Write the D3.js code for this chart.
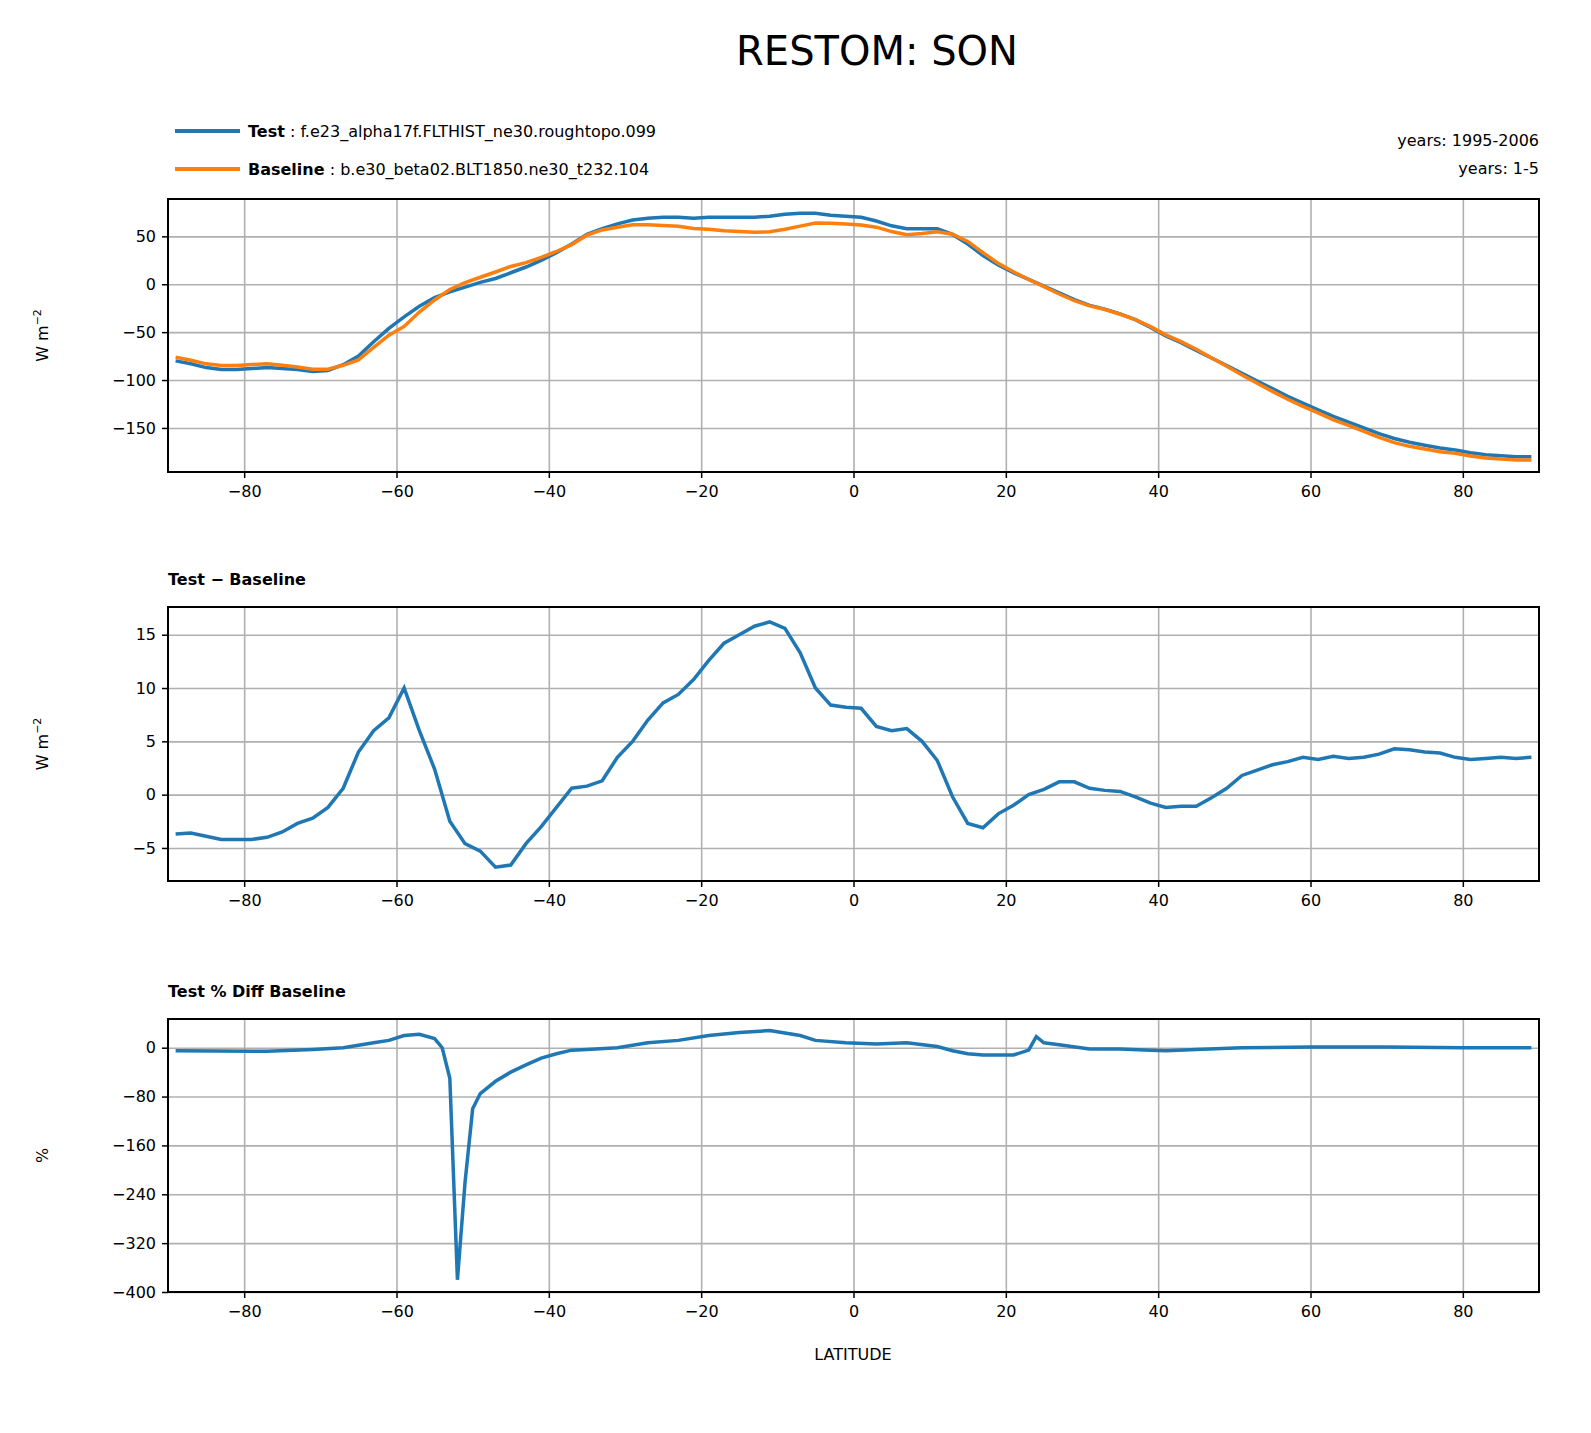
<!DOCTYPE html><html><head><meta charset="utf-8"><script src="https://cdn.jsdelivr.net/npm/d3@7"></script>
<style>html,body{margin:0;background:#fff;overflow:hidden}svg{display:block}text{font-family:"DejaVu Sans",sans-serif}</style></head><body>
<svg id="c" width="1591" height="1433"></svg>
<script>
const lat=d3.range(-89,90,2);
const test=[-80,-83,-87,-89,-89,-88,-87,-88,-89,-91,-90,-84,-75,-60,-46,-34,-23,-14,-8,-3,2,6,12,18,25,33,42,52,58,63,67,69,70,70,69,70,70,70,70,71,73,74,74,72,71,70,66,61,58,58,58,52,42,30,20,12,5,-2,-9,-16,-22,-26,-31,-37,-45,-54,-61,-69,-77,-85,-93,-101,-109,-117,-124,-131,-138,-144,-150,-156,-161,-165,-168,-171,-173,-176,-178,-179,-180,-180];
const diff=[-3.7,-3.6,-3.9,-4.2,-4.2,-4.2,-4.0,-3.5,-2.7,-2.2,-1.2,0.6,4.0,6.0,7.2,10.0,6.0,2.4,-2.5,-4.6,-5.3,-6.8,-6.6,-4.6,-3.0,-1.2,0.6,0.8,1.3,3.5,5.0,7.0,8.6,9.4,10.8,12.6,14.2,15.0,15.8,16.2,15.6,13.3,10.0,8.4,8.2,8.1,6.4,6.0,6.2,5.0,3.2,-0.2,-2.7,-3.1,-1.8,-1.0,0,0.5,1.2,1.2,0.6,0.4,0.3,-0.2,-0.8,-1.2,-1.1,-1.1,-0.3,0.6,1.8,2.3,2.8,3.1,3.5,3.3,3.6,3.4,3.5,3.8,4.3,4.2,4.0,3.9,3.5,3.3,3.4,3.5,3.4,3.5];
const base=test.map((v,i)=>v-diff[i]);
const pctLat=[-89,-77,-71,-67,-63,-61,-59,-57,-55,-54,-53,-52,-51,-50,-49,-47,-45,-43,-41,-39,-37,-35,-31,-27,-23,-19,-15,-11,-7,-5,-1,3,7,11,13,15,17,21,23,24,25,27,31,35,39,41,45,51,60,70,80,89];
const pct=[-5,-6,-3,0,8,12,20,22,15,0,-50,-380,-220,-100,-75,-55,-40,-28,-17,-10,-4,-3,0,8,12,20,25,28,20,12,8,6,8,2,-5,-10,-12,-12,-4,18,8,5,-2,-2,-4,-5,-3,0,1,1,0,0];
const xTicks=[-80,-60,-40,-20,0,20,40,60,80];
const svg=d3.select("#c");
const x=d3.scaleLinear().domain([-90,90]).range([168,1539]);
const blue="#1f77b4",orange="#ff7f0e";
svg.append("text").attr("x",877).attr("y",65).attr("text-anchor","middle").attr("font-size",40).text("RESTOM: SON");
function panel(top,bot,dom,yt,series,ylab,sub,xlab){
  const y=d3.scaleLinear().domain(dom).range([bot,top]);
  const g=svg.append("g");
  g.append("g").attr("transform",`translate(0,${bot})`).call(d3.axisBottom(x).tickValues(xTicks).tickSize(top-bot).tickFormat(""))
   .call(a=>{a.selectAll("line").attr("stroke","#b0b0b0").attr("stroke-width",1.6);a.select(".domain").remove();});
  g.append("g").attr("transform",`translate(168,0)`).call(d3.axisLeft(y).tickValues(yt).tickSize(-1371).tickFormat(""))
   .call(a=>{a.selectAll("line").attr("stroke","#b0b0b0").attr("stroke-width",1.6);a.select(".domain").remove();});
  const fmt=d=>String(d).replace("-","\u2212");
  g.append("g").attr("transform",`translate(0,${bot})`).call(d3.axisBottom(x).tickValues(xTicks).tickSize(6).tickPadding(8).tickFormat(fmt))
   .call(a=>{a.select(".domain").remove();a.selectAll("text").attr("font-size",16).attr("font-family","DejaVu Sans");a.selectAll("line").attr("stroke-width",1.5);});
  g.append("g").attr("transform",`translate(168,0)`).call(d3.axisLeft(y).tickValues(yt).tickSize(6).tickPadding(6).tickFormat(fmt))
   .call(a=>{a.select(".domain").remove();a.selectAll("text").attr("font-size",16).attr("font-family","DejaVu Sans");a.selectAll("line").attr("stroke-width",1.5);});
  series.forEach(s=>{
    g.append("path").datum(s.y.map((v,i)=>[s.x[i],v])).attr("fill","none").attr("stroke",s.c).attr("stroke-width",3.5)
     .attr("d",d3.line().x(d=>x(d[0])).y(d=>y(d[1])));
  });
  g.append("rect").attr("x",168).attr("y",top).attr("width",1371).attr("height",bot-top).attr("fill","none").attr("stroke","#000").attr("stroke-width",2);
  const yl=g.append("text").attr("transform",`translate(48,${(top+bot)/2}) rotate(-90)`).attr("text-anchor","middle").attr("font-size",16);
  if(ylab==="W"){yl.text("W m");yl.append("tspan").attr("dy",-7).attr("font-size",11).text("\u22122");}else yl.text(ylab);
  if(sub) g.append("text").attr("x",168).attr("y",top-22).attr("font-size",16).attr("font-weight","bold").text(sub);
  if(xlab) g.append("text").attr("x",853).attr("y",bot+68).attr("text-anchor","middle").attr("font-size",16).text(xlab);
}
panel(199,472,[-196,89],[50,0,-50,-100,-150],[{x:lat,y:test,c:blue},{x:lat,y:base,c:orange}],"W",null,null);
panel(607,881,[-8.1,17.6],[15,10,5,0,-5],[{x:lat,y:diff,c:blue}],"W","Test \u2212 Baseline",null);
panel(1019,1292,[-400,47],[0,-80,-160,-240,-320,-400],[{x:pctLat,y:pct,c:blue}],"%","Test % Diff Baseline","LATITUDE");
[[131,blue,"Test"," : f.e23_alpha17f.FLTHIST_ne30.roughtopo.099"],[169,orange,"Baseline"," : b.e30_beta02.BLT1850.ne30_t232.104"]].forEach(r=>{
  svg.append("line").attr("x1",175).attr("x2",240).attr("y1",r[0]).attr("y2",r[0]).attr("stroke",r[1]).attr("stroke-width",4);
  const t=svg.append("text").attr("x",248).attr("y",r[0]+6).attr("font-size",16);
  t.append("tspan").attr("font-weight","bold").text(r[2]);t.append("tspan").text(r[3]);
});
svg.append("text").attr("x",1539).attr("y",146).attr("text-anchor","end").attr("font-size",16).text("years: 1995-2006");
svg.append("text").attr("x",1539).attr("y",174).attr("text-anchor","end").attr("font-size",16).text("years: 1-5");
</script></body></html>
